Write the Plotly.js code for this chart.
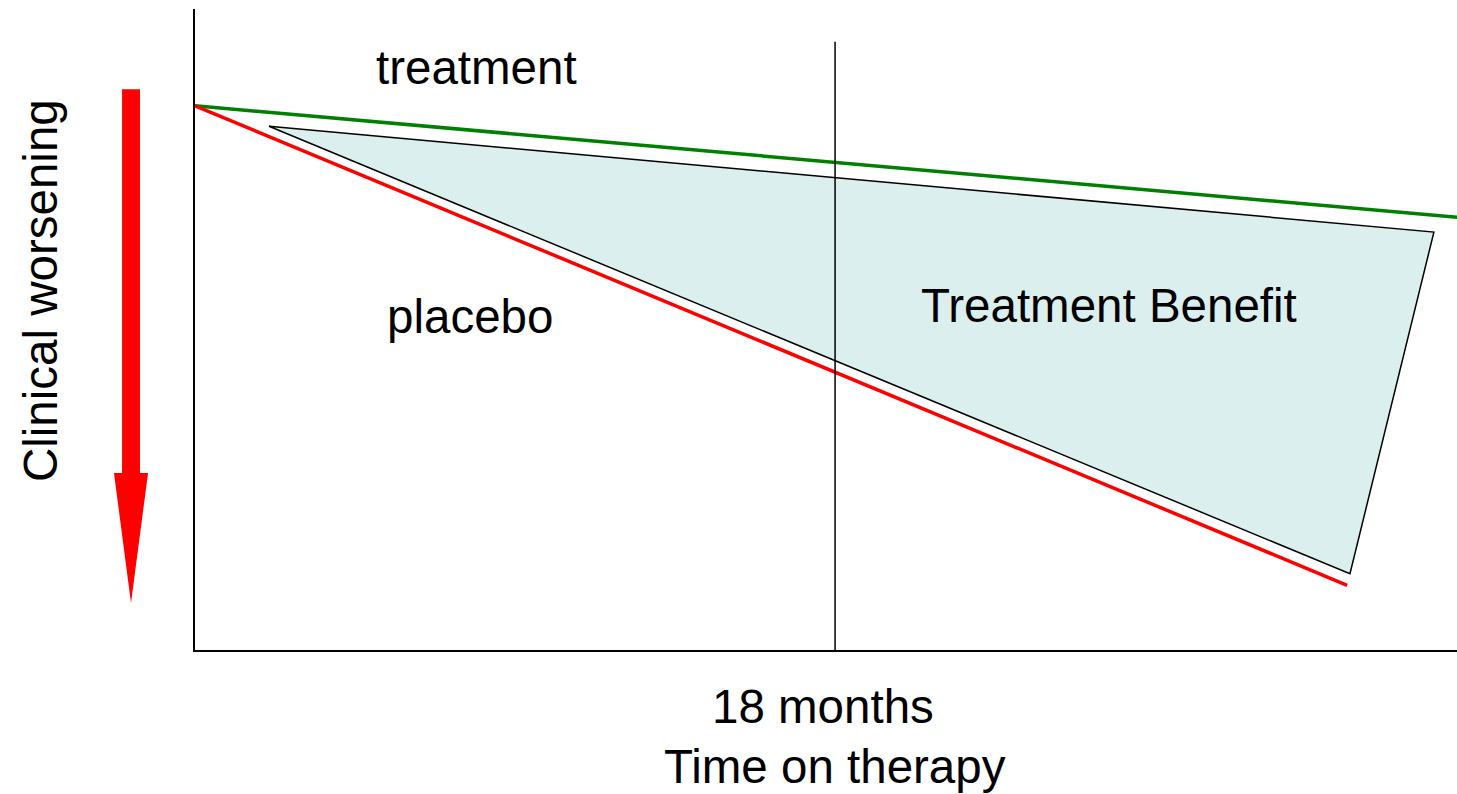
<!DOCTYPE html>
<html>
<head>
<meta charset="utf-8">
<script src="https://cdn.plot.ly/plotly-3.0.1.min.js"></script>
<style>html,body{margin:0;padding:0;background:#fff;}#chart{width:1457px;height:794px;}</style>
</head>
<body>
<div id="chart"></div>
<script>
// Schematic values (months on x, clinical score on y; higher = better)
const treatmentX = [0, 35.5];
const treatmentY = [84.9, 67.5];
const placeboX = [0, 32.4];
const placeboY = [84.9, 10.1];
const benefitX = [2.08, 34.84, 32.48, 2.08];
const benefitY = [81.7, 65.2, 11.9, 81.7];
const markerMonth = 18;
const markerTop = 94.9;
const labels = {
  treatment: "treatment",
  placebo: "placebo",
  benefit: "Treatment Benefit",
  marker: "18 months",
  xTitle: "Time on therapy",
  yTitle: "Clinical worsening"
};

const FONT = "Liberation Sans, Arial, Helvetica, sans-serif";
const FS = 47.5;

const traces = [
  {x: benefitX, y: benefitY, mode: "lines", fill: "toself",
   fillcolor: "#dcefef", line: {color: "#000", width: 1.5}, hoverinfo: "skip"},
  {x: treatmentX, y: treatmentY, mode: "lines", line: {color: "#008000", width: 3.5}},
  {x: placeboX, y: placeboY, mode: "lines", line: {color: "#ff0000", width: 3.5}}
];

const layout = {
  width: 1457, height: 794,
  margin: {l: 195, r: 0, t: 9, b: 144, pad: 0},
  paper_bgcolor: "#fff", plot_bgcolor: "#fff",
  showlegend: false,
  font: {family: FONT, size: FS, color: "#000"},
  xaxis: {range: [0, 35.49], showgrid: false, zeroline: false, showticklabels: false,
          ticks: "", showline: true, linecolor: "#000", linewidth: 2, fixedrange: true},
  yaxis: {range: [0, 100], showgrid: false, zeroline: false, showticklabels: false,
          ticks: "", showline: true, linecolor: "#000", linewidth: 2, fixedrange: true},
  shapes: [
    {type: "line", xref: "x", yref: "y", x0: markerMonth, x1: markerMonth, y0: 0, y1: markerTop,
     line: {color: "#000", width: 1.5}},
    {type: "path", xref: "paper", yref: "paper",
     path: "M -0.0578,0.875 L -0.0436,0.875 L -0.0436,0.276 L -0.0372,0.276 L -0.0507,0.0733 L -0.0642,0.276 L -0.0578,0.276 Z",
     fillcolor: "#ff0000", line: {width: 0}}
  ],
  annotations: [
    {text: labels.treatment, xref: "paper", yref: "paper", x: 0.2227, y: 0.9095, showarrow: false,
     xanchor: "center", yanchor: "middle", font: {family: FONT, size: FS}},
    {text: labels.placebo, xref: "paper", yref: "paper", x: 0.2179, y: 0.521, showarrow: false,
     xanchor: "center", yanchor: "middle", font: {family: FONT, size: FS}},
    {text: labels.benefit, xref: "paper", yref: "paper", x: 0.7242, y: 0.538, showarrow: false,
     xanchor: "center", yanchor: "middle", font: {family: FONT, size: FS}},
    {text: labels.marker, xref: "paper", yref: "paper", x: 0.4976, y: -0.0874, showarrow: false,
     xanchor: "center", yanchor: "middle", font: {family: FONT, size: FS}},
    {text: labels.xTitle, xref: "paper", yref: "paper", x: 0.507, y: -0.182, showarrow: false,
     xanchor: "center", yanchor: "middle", borderpad: 0, font: {family: FONT, size: FS}},
    {text: labels.yTitle, xref: "paper", yref: "paper", x: -0.1228, y: 0.56, showarrow: false,
     textangle: -90, xanchor: "center", yanchor: "middle", font: {family: FONT, size: FS}}
  ]
};

Plotly.newPlot("chart", traces, layout, {displayModeBar: false, staticPlot: true});
</script>
</body>
</html>
